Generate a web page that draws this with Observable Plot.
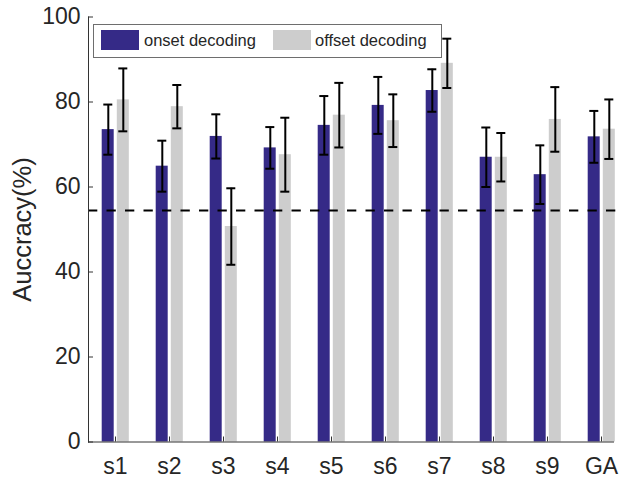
<!DOCTYPE html>
<html>
<head>
<meta charset="utf-8">
<script src="https://cdn.jsdelivr.net/npm/d3@7"></script>
<script src="https://cdn.jsdelivr.net/npm/@observablehq/plot@0.6"></script>
<style>
  body { margin: 0; background: white; }
  #wrap { position: relative; width: 624px; height: 478px; font-family: "Liberation Sans", Arial, sans-serif; }
  #legend { position: absolute; left: 93px; top: 24px; width: 349px; height: 34px; box-sizing: border-box;
            border: 1.3px solid #6e6e6e; background: white; }
  #legend .sw { position: absolute; top: 5px; width: 38px; height: 20px; }
  #legend .lb { position: absolute; top: 0; height: 31px; line-height: 31px; font-size: 16.5px; color: #262626; white-space: nowrap; }
</style>
</head>
<body>
<div id="wrap"></div>
<script>
// ---- data ----
const subjects = ["s1", "s2", "s3", "s4", "s5", "s6", "s7", "s8", "s9", "GA"];
const onsetMean = [73.5, 64.9, 71.9, 69.2, 74.5, 79.2, 82.7, 67.0, 62.9, 71.8];
const onsetErr = [5.9, 6.0, 5.2, 4.9, 6.9, 6.7, 5.0, 7.0, 6.9, 6.1];
const offsetMean = [80.5, 78.9, 50.7, 67.6, 76.9, 75.6, 89.1, 67.0, 75.9, 73.6];
const offsetErr = [7.4, 5.1, 9.0, 8.7, 7.6, 6.2, 5.8, 5.7, 7.6, 7.0];
const chanceLevel = 54.5;
const yTicks = [0, 20, 40, 60, 80, 100];
const seriesNames = ["onset decoding", "offset decoding"];
const seriesColors = ["#352a87", "#cdcdcd"];
const yLabel = "Auccracy(%)";

// ---- layout ----
const W = 624, H = 478;
const mL = 88, mR = -4, mT = 16.5, mB = 36.5;
const frameW = W - mR - mL, frameH = H - mB - mT;
const axisColor = "#333333";

const onset = subjects.map((s, i) => ({subject: s, value: onsetMean[i], lo: onsetMean[i] - onsetErr[i], hi: onsetMean[i] + onsetErr[i]}));
const offset = subjects.map((s, i) => ({subject: s, value: offsetMean[i], lo: offsetMean[i] - offsetErr[i], hi: offsetMean[i] + offsetErr[i]}));

const chart = Plot.plot({
  width: W, height: H,
  marginLeft: mL, marginRight: mR, marginTop: mT, marginBottom: mB,
  style: {fontFamily: '"Liberation Sans", Arial, sans-serif', color: "#262626", background: "white", overflow: "hidden"},
  x: {domain: subjects, padding: 0},
  y: {domain: [0, 100]},
  marks: [
    Plot.barY(onset, {x: "subject", y: "value", fill: seriesColors[0], insetLeft: 13.7, insetRight: 28.3}),
    Plot.barY(offset, {x: "subject", y: "value", fill: seriesColors[1], insetLeft: 28.8, insetRight: 13.2}),
    Plot.ruleY([chanceLevel], {stroke: "black", strokeWidth: 2, strokeDasharray: "9.3,9.2", insetRight: 11}),
    Plot.ruleX(onset, {x: "subject", y1: "lo", y2: "hi", dx: -7.2, stroke: "black", strokeWidth: 2}),
    Plot.ruleX(offset, {x: "subject", y1: "lo", y2: "hi", dx: 7.8, stroke: "black", strokeWidth: 2}),
    Plot.tickY(onset, {x: "subject", y: "hi", insetLeft: 15.3, insetRight: 29.7, stroke: "black", strokeWidth: 2}),
    Plot.tickY(onset, {x: "subject", y: "lo", insetLeft: 15.3, insetRight: 29.7, stroke: "black", strokeWidth: 2}),
    Plot.tickY(offset, {x: "subject", y: "hi", insetLeft: 30.3, insetRight: 14.7, stroke: "black", strokeWidth: 2}),
    Plot.tickY(offset, {x: "subject", y: "lo", insetLeft: 30.3, insetRight: 14.7, stroke: "black", strokeWidth: 2}),
    // axis lines
    Plot.ruleY([0], {stroke: axisColor, strokeWidth: 1, insetRight: 14}),
    Plot.frame({anchor: "left", stroke: axisColor, strokeWidth: 1}),
    // inward ticks
    Plot.tickY(yTicks, {y: d => d, insetRight: frameW - 5, stroke: axisColor, strokeWidth: 1}),
    Plot.tickX(subjects, {x: d => d, insetTop: frameH - 5, stroke: axisColor, strokeWidth: 1}),
    // tick labels
    Plot.axisY({ticks: yTicks, tickSize: 0, tickPadding: 8, fontSize: 23, label: null}),
    Plot.axisX({tickSize: 0, tickPadding: 16, fontSize: 23, label: null}),
    // y label
    Plot.text([yLabel], {text: d => d, frameAnchor: "left", textAnchor: "middle", lineAnchor: "middle", rotate: -90, dx: -66, fontSize: 25.5, fill: "#262626"})
  ]
});

const wrap = document.getElementById("wrap");
wrap.appendChild(chart);

// legend (inside the axes, top-left)
const legend = document.createElement("div");
legend.id = "legend";
const swLeft = [7, 179], lbLeft = [50, 221];
seriesNames.forEach((name, i) => {
  const sw = document.createElement("div");
  sw.className = "sw";
  sw.style.left = swLeft[i] + "px";
  sw.style.background = seriesColors[i];
  const lb = document.createElement("div");
  lb.className = "lb";
  lb.style.left = lbLeft[i] + "px";
  lb.textContent = name;
  legend.appendChild(sw);
  legend.appendChild(lb);
});
wrap.appendChild(legend);
</script>
</body>
</html>
